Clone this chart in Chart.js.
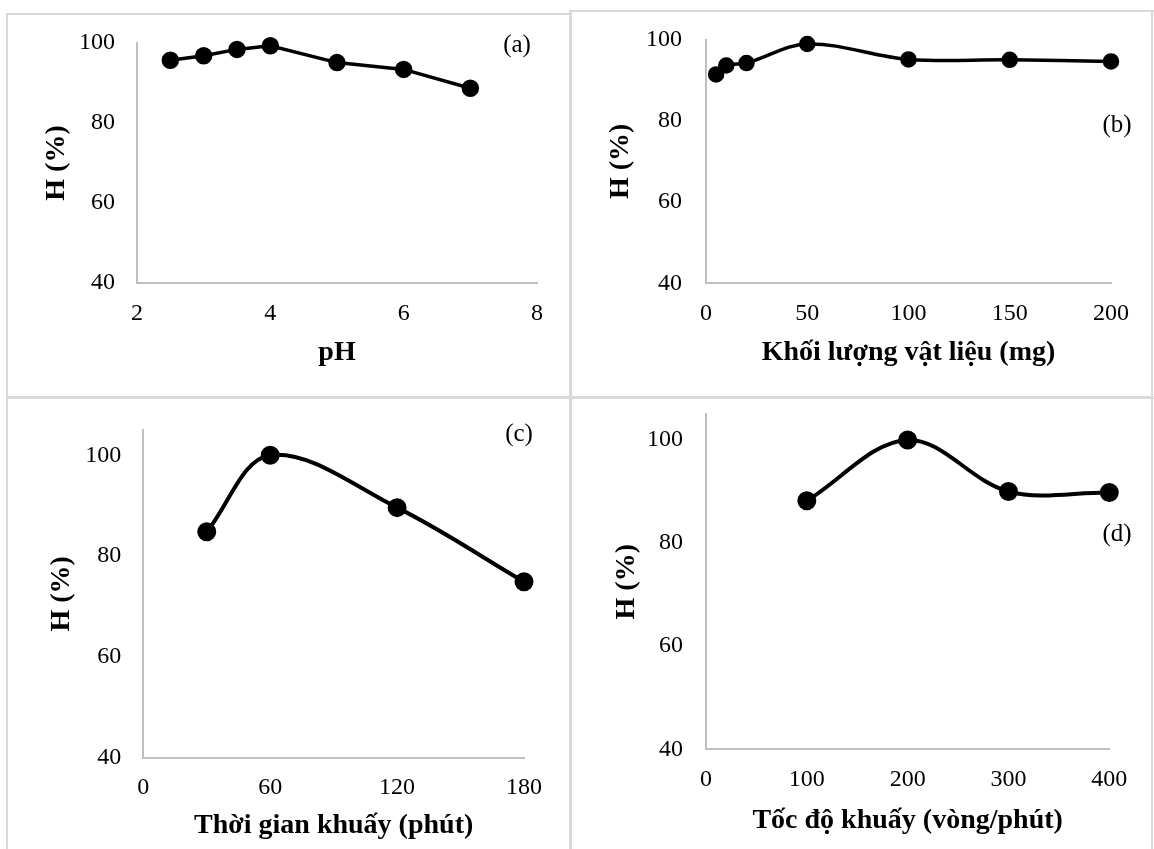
<!DOCTYPE html>
<html lang="vi">
<head>
<meta charset="UTF-8">
<title>H (%) theo pH, khối lượng, thời gian, tốc độ khuấy</title>
<script src="https://cdn.jsdelivr.net/npm/chart.js"></script>
<style>
    body {
        margin: 0;
        width: 1154px;
        height: 849px;
        background-color: #fff;
        position: relative;
        overflow: hidden;
        font-family: "Liberation Serif", "Times New Roman", serif;
    }
    .rule { position: absolute; background-color: #d9d9d9; }
    .panel { position: absolute; }
    .tag {
        position: absolute;
        font-size: 25px;
        line-height: 1;
        transform: translate(-50%, -50%);
        white-space: nowrap;
    }
</style>
</head>
<body>
    <!-- frame lines -->
    <div class="rule" style="left:6px;top:13px;width:565px;height:2px"></div>
    <div class="rule" style="left:569px;top:10px;width:585px;height:2px"></div>
    <div class="rule" style="left:6px;top:13px;width:2px;height:836px"></div>
    <div class="rule" style="left:569px;top:10px;width:3px;height:839px"></div>
    <div class="rule" style="left:6px;top:396px;width:1148px;height:3px"></div>
    <div class="rule" style="left:1151px;top:10px;width:2px;height:839px"></div>

    <div class="panel" style="left:9px;top:16px;width:559px;height:379px"><canvas id="chartA"></canvas></div>
    <div class="panel" style="left:572px;top:13px;width:578px;height:382px"><canvas id="chartB"></canvas></div>
    <div class="panel" style="left:9px;top:400px;width:560px;height:449px"><canvas id="chartC"></canvas></div>
    <div class="panel" style="left:573px;top:400px;width:577px;height:449px"><canvas id="chartD"></canvas></div>

    <div class="tag" style="left:517px;top:43px">(a)</div>
    <div class="tag" style="left:1117px;top:123px">(b)</div>
    <div class="tag" style="left:519px;top:432px">(c)</div>
    <div class="tag" style="left:1117px;top:532px">(d)</div>

<script>
    // (a) pH
    const phX = [2.5, 3, 3.5, 4, 5, 6, 7];
    const phH = [95.7, 96.8, 98.4, 99.3, 95.1, 93.4, 88.7];
    const phTicks = [2, 4, 6, 8];

    // (b) khối lượng vật liệu (mg)
    const massX = [5, 10, 20, 50, 100, 150, 200];
    const massH = [91.4, 93.6, 94.2, 98.9, 95.1, 95.0, 94.6];
    const massTicks = [0, 50, 100, 150, 200];

    // (c) thời gian khuấy (phút)
    const timeX = [30, 60, 120, 180];
    const timeH = [84.8, 100, 89.6, 74.9];
    const timeTicks = [0, 60, 120, 180];

    // (d) tốc độ khuấy (vòng/phút)
    const speedX = [100, 200, 300, 400];
    const speedH = [88.2, 100, 90.0, 89.8];
    const speedTicks = [0, 100, 200, 300, 400];

    const yTicks = [40, 60, 80, 100];
    const yLabel = 'H (%)';

    Chart.defaults.color = '#000';
    Chart.defaults.font.family = '"Liberation Serif", "Times New Roman", serif';

    const tickFont = { size: 24 };
    const titleFont = { size: 28, weight: 'bold' };
    const axisGray = '#bfbfbf';

    function makeChart(id, xs, ys, cfg) {
        const pts = xs.map((x, i) => ({ x: x, y: ys[i] }));
        return new Chart(document.getElementById(id), {
            type: 'line',
            data: {
                datasets: [{
                    data: pts,
                    borderColor: '#000',
                    backgroundColor: '#000',
                    borderWidth: cfg.lw,
                    pointRadius: cfg.dot,
                    pointBackgroundColor: '#000',
                    pointBorderColor: '#000',
                    tension: cfg.tension,
                    clip: false
                }]
            },
            options: {
                responsive: true,
                maintainAspectRatio: false,
                animation: false,
                layout: { padding: { left: 0, top: cfg.padTop, right: cfg.padRight, bottom: 0 } },
                plugins: { legend: { display: false }, tooltip: { enabled: false } },
                scales: {
                    x: {
                        type: 'linear',
                        min: cfg.xTicks[0],
                        max: cfg.xTicks[cfg.xTicks.length - 1],
                        grid: { display: false, drawTicks: false },
                        border: { display: true, color: axisGray, width: 2 },
                        ticks: { font: tickFont, padding: 16, maxRotation: 0 },
                        title: { display: true, text: cfg.xTitle, font: titleFont, padding: { top: 0, bottom: cfg.xTitlePad } },
                        afterBuildTicks: s => { s.ticks = cfg.xTicks.map(v => ({ value: v })); },
                        afterFit: s => {
                            s.height = cfg.xH;
                            s.paddingLeft = 0;
                            s.paddingRight = 0;
                        }
                    },
                    y: {
                        min: 40,
                        max: cfg.yMax,
                        grid: { display: false, drawTicks: false },
                        border: { display: true, color: axisGray, width: 2 },
                        ticks: { font: tickFont, padding: cfg.yTickPad },
                        title: { display: true, text: yLabel, font: titleFont, padding: { top: cfg.yTitlePad, bottom: 0 } },
                        afterBuildTicks: s => { s.ticks = yTicks.map(v => ({ value: v })); },
                        afterFit: s => {
                            s.width = cfg.yW;
                            s.paddingTop = 0;
                            s.paddingBottom = 0;
                        }
                    }
                }
            }
        });
    }

    makeChart('chartA', phX, phH, {
        xTicks: phTicks, xTitle: 'pH', yMax: 100, tension: 0, dot: 7, lw: 3.5,
        yW: 128, xH: 112, padTop: 27, padRight: 31,
        xTitlePad: 25.2, yTitlePad: 31.2, yTickPad: 22
    });
    makeChart('chartB', massX, massH, {
        xTicks: massTicks, xTitle: 'Khối lượng vật liệu (mg)', yMax: 100, tension: 0.35, dot: 6.5, lw: 3.5,
        yW: 134, xH: 111.7, padTop: 26.5, padRight: 39,
        xTitlePad: 25.2, yTitlePad: 32.2, yTickPad: 24
    });
    makeChart('chartC', timeX, timeH, {
        xTicks: timeTicks, xTitle: 'Thời gian khuấy (phút)', yMax: 105, tension: 0.35, dot: 7.5, lw: 4,
        yW: 134.3, xH: 91.3, padTop: 30, padRight: 45,
        xTitlePad: 6.2, yTitlePad: 36.2, yTickPad: 22
    });
    makeChart('chartD', speedX, speedH, {
        xTicks: speedTicks, xTitle: 'Tốc độ khuấy (vòng/phút)', yMax: 105, tension: 0.35, dot: 7.5, lw: 4,
        yW: 133, xH: 99.7, padTop: 14.2, padRight: 40.7,
        xTitlePad: 11.2, yTitlePad: 37.2, yTickPad: 23
    });
</script>
</body>
</html>
